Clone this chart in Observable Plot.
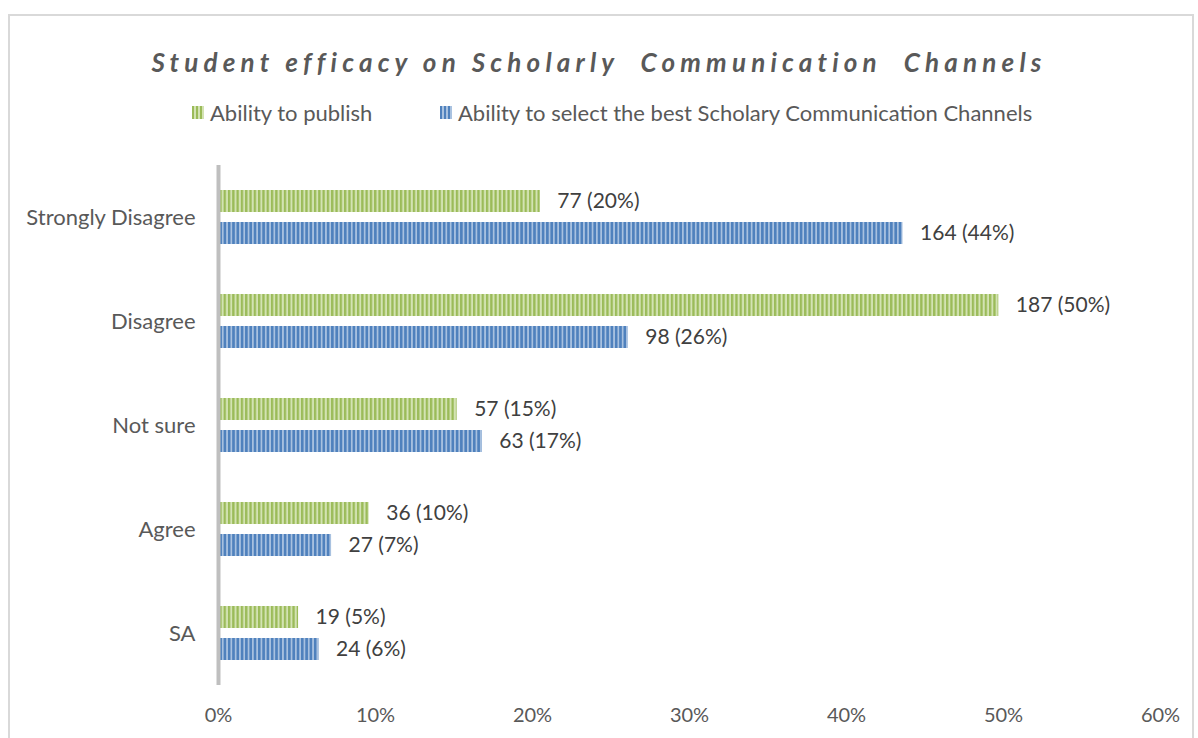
<!DOCTYPE html>
<html>
<head>
<meta charset="utf-8">
<script src="https://cdn.jsdelivr.net/npm/d3@7"></script>
<script src="https://cdn.jsdelivr.net/npm/@observablehq/plot@0.6"></script>
<style>
  html, body { margin: 0; padding: 0; background: #fff; }
  body { width: 1198px; height: 738px; position: relative; overflow: hidden; font-family: Lato, "Open Sans", sans-serif; }
  #frame { position: absolute; left: 8px; top: 14px; width: 1186px; height: 740px; border: 2px solid #d9d9d9; box-sizing: border-box; }
  #title { position: absolute; left: 0; width: 1198px; top: 46px; text-align: center; font: italic bold 26px Lato, sans-serif; letter-spacing: 5.2px; color: #595959; white-space: pre; }
  #legend { position: absolute; top: 99px; left: 0; width: 1198px; font: 22px Lato, sans-serif; color: #595959; }
  .item { position: absolute; top: 0; display: flex; align-items: center; white-space: nowrap; }
  .sw { width: 12px; height: 13px; margin-right: 6px; }
  #chart { position: absolute; left: 0; top: 140px; }
</style>
</head>
<body>
<div id="frame"></div>
<div id="title">Student efficacy on Scholarly  Communication  Channels</div>
<div id="legend"></div>
<div id="chart"></div>
<script>
const categories = ["Strongly Disagree", "Disagree", "Not sure", "Agree", "SA"];
const seriesNames = ["Ability to publish", "Ability to select the best Scholary Communication Channels"];
const publishCounts = [77, 187, 57, 36, 19];
const publishShare = [20.5, 49.7, 15.2, 9.6, 5.1];
const publishLabelPct = [20, 50, 15, 10, 5];
const selectCounts = [164, 98, 63, 27, 24];
const selectShare = [43.6, 26.1, 16.8, 7.2, 6.4];
const selectLabelPct = [44, 26, 17, 7, 6];
const xTicks = [0, 10, 20, 30, 40, 50, 60];

const publish = categories.map((c, i) => ({cat: c, v: publishShare[i], label: `${publishCounts[i]} (${publishLabelPct[i]}%)`}));
const select = categories.map((c, i) => ({cat: c, v: selectShare[i], label: `${selectCounts[i]} (${selectLabelPct[i]}%)`}));

const patterns = `
<defs>
  <pattern id="pgreen" width="4.3" height="10" patternUnits="userSpaceOnUse">
    <rect width="4.3" height="10" fill="#d3e3b3"/>
    <rect x="0" width="2.3" height="10" fill="#9bbb59"/>
  </pattern>
  <pattern id="pblue" width="4.3" height="10" patternUnits="userSpaceOnUse">
    <rect width="4.3" height="10" fill="#a9c2e0"/>
    <rect x="0" width="2.6" height="10" fill="#4f81bd"/>
  </pattern>
</defs>`;

const plot = Plot.plot({
  width: 1198,
  height: 598,
  marginTop: 25,
  marginBottom: 53,
  marginLeft: 218,
  marginRight: 38,
  style: {fontFamily: "Lato, sans-serif", fontSize: "20px", color: "#595959", background: "transparent"},
  x: {domain: [0, 60], ticks: xTicks, tickFormat: d => d + "%", tickSize: 0, tickPadding: 22, label: null},
  y: {domain: categories, padding: 0, tickSize: 0, tickPadding: 23, label: null},
  marks: [
    Plot.barX(publish, {x: "v", y: "cat", fill: "url(#pgreen)", insetTop: 25, insetBottom: 57, insetLeft: 2}),
    Plot.barX(select, {x: "v", y: "cat", fill: "url(#pblue)", insetTop: 57, insetBottom: 25, insetLeft: 2}),
    Plot.ruleX([0], {stroke: "#bfbfbf", strokeWidth: 4}),
    Plot.text(publish, {x: "v", y: "cat", text: "label", dy: -16, dx: 17, textAnchor: "start", fill: "#404040", fontSize: 21}),
    Plot.text(select, {x: "v", y: "cat", text: "label", dy: 16, dx: 17, textAnchor: "start", fill: "#404040", fontSize: 21})
  ]
});
plot.insertAdjacentHTML("afterbegin", patterns);
plot.querySelectorAll("[aria-label='x-axis tick label'] text, [aria-label='y-axis tick label'] text").forEach(t => t.setAttribute("fill", "#595959"));
plot.querySelectorAll("[aria-label='y-axis tick label']").forEach(g => g.setAttribute("font-size", "22"));
document.getElementById("chart").appendChild(plot);

const legend = document.getElementById("legend");
const lx = [192, 440];
const pats = ["repeating-linear-gradient(90deg, #9bbb59 0 2px, #d3e3b3 2px 4px)", "repeating-linear-gradient(90deg, #4f81bd 0 2px, #a9c2e0 2px 4px)"];
seriesNames.forEach((n, i) => {
  const d = document.createElement("div");
  d.className = "item";
  d.style.left = lx[i] + "px";
  d.innerHTML = `<span class="sw" style="background:${pats[i]}"></span><span>${n}</span>`;
  legend.appendChild(d);
});
</script>
</body>
</html>
